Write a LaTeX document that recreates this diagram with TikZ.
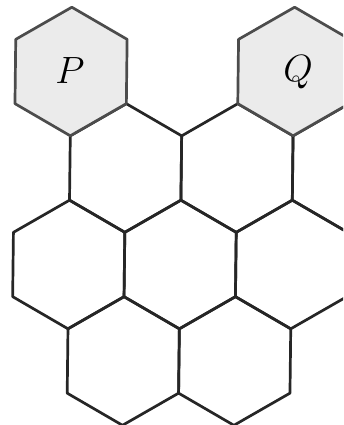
\RequirePackage{fix-cm}
\documentclass[tikz,border=0pt]{standalone}
\begin{document}
\begin{tikzpicture}[x=1pt,y=-1pt,
  hexline/.style={draw=black!85, line width=2.7pt, line join=round},
  hexgiven/.style={draw=black!70, fill=black!8, line width=2.7pt, line join=round},
  lab/.style={inner sep=0pt, font=\fontsize{38}{40}\selectfont}]
\useasboundingbox (0,0) rectangle (343,425);
\clip (0,0) rectangle (343,425);
\def\R{64.3}
\newcommand\hexat[1]{(#1) +(90:\R) -- +(150:\R) -- +(210:\R) -- +(270:\R) -- +(330:\R) -- +(30:\R) -- cycle}
\begin{scope}[shift={(0.9,0)}, xslant=0.012]
  % centres
  \coordinate (p)   at (71,71.5);
  \coordinate (q)   at (293.8,71.5);
  \coordinate (b1)  at (126.7,168);
  \coordinate (b2)  at (238.1,168);
  \coordinate (b3)  at (349.5,168);
  \coordinate (c1)  at (71,264.5);
  \coordinate (c2)  at (182.4,264.5);
  \coordinate (c3)  at (293.8,264.5);
  \coordinate (d1)  at (126.7,361);
  \coordinate (d2)  at (238.1,361);
  \foreach \c in {b1,b2,b3,c1,c2,c3,d1,d2}{
    \draw[hexline] \hexat{\c};
  }
  \draw[hexgiven] \hexat{p};
  \draw[hexgiven] \hexat{q};
\end{scope}
\node[lab] (P) at (70,71) {$P$};
\node[lab] (Q) at (298,72) {$Q$};
\end{tikzpicture}
\end{document}
